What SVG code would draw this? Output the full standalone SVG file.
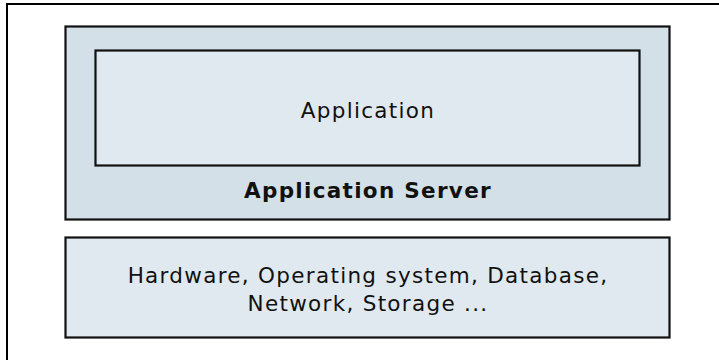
<svg xmlns="http://www.w3.org/2000/svg" width="719" height="360" viewBox="0 0 719 360">
<style>
.box{stroke:#111;stroke-width:2.2}
.t{font-family:"DejaVu Sans","Verdana",sans-serif;font-size:21.5px;letter-spacing:1.3px;fill:#111;text-anchor:middle}
.b{font-weight:bold}
</style>
<rect width="719" height="360" fill="#fff"/>
<path d="M7,360 V4 H719" fill="none" stroke="#000" stroke-width="2"/>
<g id="server">
<rect class="box" x="65.5" y="26.5" width="604" height="193" fill="#d3e0e8"/>
<text class="t b" x="368" y="198">Application Server</text>
</g>
<g id="application">
<rect class="box" x="95.5" y="50.5" width="544" height="115" fill="#dfe9ef"/>
<text class="t" x="368" y="118">Application</text>
</g>
<g id="infrastructure">
<rect class="box" x="65.5" y="237.5" width="604" height="100" fill="#dfe9ef"/>
<text class="t" x="368" y="283">Hardware, Operating system, Database,</text>
<text class="t" x="368" y="311">Network, Storage ...</text>
</g>
<g id="connectors"/>
</svg>
